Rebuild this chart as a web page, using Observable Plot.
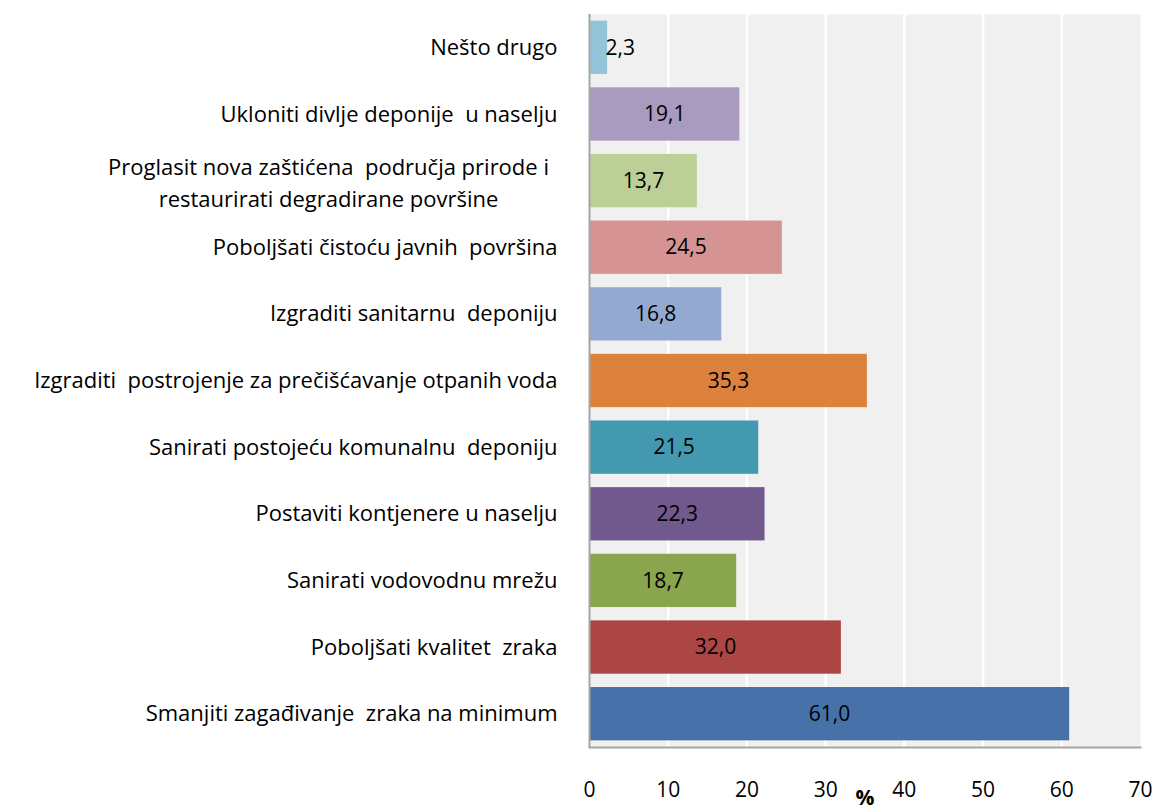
<!DOCTYPE html>
<html>
<head>
<meta charset="utf-8">
<script src="https://cdn.jsdelivr.net/npm/d3@7"></script>
<script src="https://cdn.jsdelivr.net/npm/@observablehq/plot@0.6"></script>
<style>
  body { margin: 0; background: #fff; }
  #chart svg { display: block; }
</style>
</head>
<body>
<div id="chart"></div>
<script>
const categories = [
  "Nešto drugo",
  "Ukloniti divlje deponije  u naselju",
  "Proglasit nova zaštićena  područja prirode i\nrestaurirati degradirane površine",
  "Poboljšati čistoću javnih  površina",
  "Izgraditi sanitarnu  deponiju",
  "Izgraditi  postrojenje za prečišćavanje otpanih voda",
  "Sanirati postojeću komunalnu  deponiju",
  "Postaviti kontjenere u naselju",
  "Sanirati vodovodnu mrežu",
  "Poboljšati kvalitet  zraka",
  "Smanjiti zagađivanje  zraka na minimum"
];
const values = [2.3, 19.1, 13.7, 24.5, 16.8, 35.3, 21.5, 22.3, 18.7, 32.0, 61.0];
const colors = ["#93c4d8", "#a99ac0", "#bbcf97", "#d59393", "#94a9d1", "#dc823d", "#4299b0", "#71598d", "#89a54e", "#ab4644", "#4672a9"];
const xTicks = [0, 10, 20, 30, 40, 50, 60, 70];
const xLabel = "%";

const data = categories.map((c, i) => ({category: c, value: values[i], color: colors[i]}));
const fmt = v => v.toFixed(1).replace(".", ",");
const FONT = "'Open Sans', 'Noto Sans', sans-serif";

const chart = Plot.plot({
  width: 1155,
  height: 812,
  marginLeft: 589,
  marginRight: 15,
  marginTop: 14,
  marginBottom: 65,
  style: {fontFamily: FONT, fontSize: "21px", color: "#000", background: "#fff"},
  x: {domain: [0, 70], ticks: xTicks},
  y: {domain: categories, paddingInner: 0.2, paddingOuter: 0.1, round: false},
  marks: [
    Plot.frame({fill: "#f0f0f0", stroke: null}),
    Plot.gridX(xTicks.filter(t => t > 0 && t < 70), {stroke: "#ffffff", strokeOpacity: 1, strokeWidth: 2.5}),
    Plot.barX(data, {y: "category", x: "value", fill: "color"}),
    Plot.ruleX([0], {stroke: "#a6a6a6", strokeWidth: 2}),
    Plot.frame({anchor: "bottom", stroke: "#a6a6a6", strokeWidth: 2}),
    Plot.text(data.filter(d => d.value >= 5), {
      y: "category", x: d => d.value / 2, text: d => fmt(d.value),
      fill: "#000", fontSize: 21, textAnchor: "middle"
    }),
    Plot.text(data.filter(d => d.value < 5), {
      y: "category", x: "value", text: d => fmt(d.value),
      fill: "#000", fontSize: 21, textAnchor: "start", dx: -2
    }),
    Plot.axisX({ticks: xTicks, tickSize: 0, tickPadding: 35, fontSize: 21, label: null, tickFormat: d => String(d)}),
    Plot.text([xLabel], {frameAnchor: "bottom", dy: 57, dx: 0, fontWeight: "bold", fontSize: 21, fill: "#000"}),
    Plot.axisY({
      tickSize: 0, tickPadding: 32, fontSize: 22, label: null, textAnchor: "end",
      tickFormat: d => d.includes("\n") ? "" : d
    }),
    Plot.text(data.filter(d => d.category.includes("\n")), {
      y: "category", text: "category", frameAnchor: "left", dx: -261,
      textAnchor: "middle", lineHeight: 1.42, fontSize: 22, fill: "#000"
    })
  ]
});
chart.querySelectorAll("text").forEach(t => t.setAttribute("xml:space", "preserve"));
document.getElementById("chart").appendChild(chart);
</script>
</body>
</html>
